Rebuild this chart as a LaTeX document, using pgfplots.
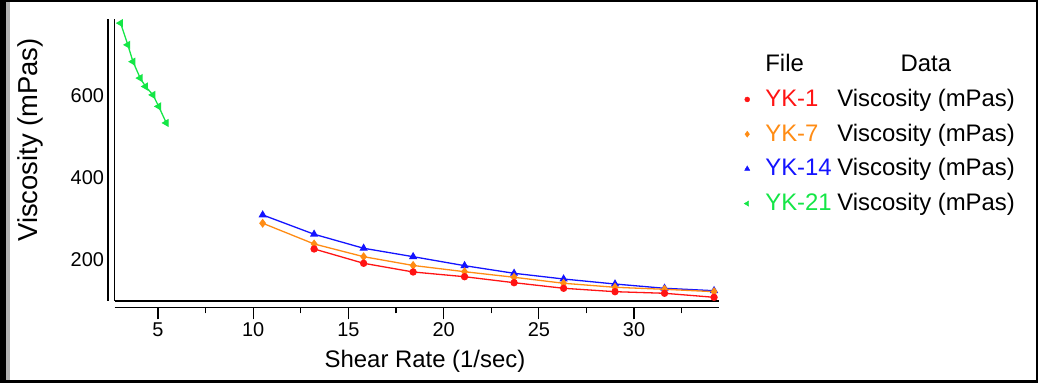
\documentclass[border=0pt]{standalone}
\usepackage{fontspec}
\setmainfont{Liberation Sans}
\usepackage{pgfplots}
\pgfplotsset{compat=1.18}
\definecolor{ykred}{RGB}{255,20,20}
\definecolor{ykorange}{RGB}{255,140,20}
\definecolor{ykblue}{RGB}{20,20,255}
\definecolor{ykgreen}{RGB}{20,230,70}
\newcommand{\rowstrut}{\rule[-7bp]{0pt}{28bp}}
\begin{document}
\begin{tikzpicture}
\useasboundingbox (0,0) rectangle (1038bp,383bp);
\fill[white] (0,0) rectangle (1038bp,383bp);
% window frame
\fill[black] (0,0) rectangle (6bp,383bp);
\fill[black] (0,0) rectangle (1038bp,3bp);
\fill[black] (0,380.5bp) rectangle (1038bp,383bp);
\fill[black] (1036bp,0) rectangle (1038bp,383bp);
\fill[gray!60] (6bp,3bp) rectangle (10bp,380.5bp);
% main data axis
\begin{axis}[
  at={(114.5bp,82bp)}, anchor=south west, scale only axis,
  width=604.5bp, height=282bp,
  xmin=2.72, xmax=34.46, ymin=98.8, ymax=786,
  axis x line*=bottom, axis y line*=left,
  axis line style={-, line width=1.3bp, black},
  xtick=\empty, ytick={200,400,600}, major tick length=0pt,
  /pgf/number format/assume math mode=true,
  yticklabel style={font=\fontsize{20}{24}\selectfont, xshift=-7bp},
  clip=false,
  legend cell align=left,
  legend style={at={(1.0323,0.8951)}, anchor=north west, draw=none, fill=none,
    inner sep=0pt, font=\fontsize{24}{28}\selectfont,
    nodes={inner sep=2bp, text depth=7bp}, row sep=2.7bp,
    /tikz/every odd column/.append style={column sep=13.5bp}},
]
\addlegendimage{empty legend}
\addlegendentry{\rowstrut\makebox[72bp][l]{File}\makebox[177bp][c]{Data}}
\addlegendimage{only marks, mark=*, mark size=2.5bp, ykred}
\addlegendentry{\rowstrut\makebox[72bp][l]{\textcolor{ykred}{YK-1}}Viscosity (mPas)}
\addlegendimage{only marks, mark=diamond*, mark size=3bp, ykorange}
\addlegendentry{\rowstrut\makebox[72bp][l]{\textcolor{ykorange}{YK-7}}Viscosity (mPas)}
\addlegendimage{only marks, mark=triangle*, mark size=3bp, ykblue}
\addlegendentry{\rowstrut\makebox[72bp][l]{\textcolor{ykblue}{YK-14}}Viscosity (mPas)}
\addlegendimage{only marks, mark=triangle*, mark size=3bp, mark options={rotate=90}, ykgreen}
\addlegendentry{\rowstrut\makebox[72bp][l]{\textcolor{ykgreen}{YK-21}}Viscosity (mPas)}

\addplot[forget plot, ykblue, line width=1.3bp, mark=triangle*, mark size=3.5bp] coordinates {
 (10.5,308.5) (13.2,261.5) (15.8,227.3) (18.4,206.8) (21.1,184.9) (23.7,166.3)
 (26.3,152.4) (29.0,140.2) (31.6,129.8) (34.2,123.9)};
\addplot[forget plot, ykorange, line width=1.3bp, mark=diamond*, mark size=3.5bp] coordinates {
 (10.5,288.3) (13.2,237.8) (15.8,206.8) (18.4,185.4) (21.1,170.2) (23.7,156.6)
 (26.3,142.0) (29.0,132.2) (31.6,127.3) (34.2,121.5)};
\addplot[forget plot, ykred, line width=1.3bp, mark=*, mark size=3bp] coordinates {
 (13.2,225.6) (15.8,190.7) (18.4,169.5) (21.1,158.0) (23.7,143.4)
 (26.3,129.8) (29.0,121.5) (31.6,117.6) (34.2,107.8)};
\addplot[forget plot, ykgreen, line width=1.3bp, mark=triangle*, mark size=3.5bp, mark options={rotate=90}] coordinates {
 (3.04,776) (3.42,723) (3.69,682) (4.07,642) (4.35,621.5) (4.74,601) (5.04,573) (5.44,532.7)};
\draw[black, line width=1.3bp] ([xshift=-6.5bp]rel axis cs:0,0) -- ([xshift=-6.5bp]rel axis cs:0,1);
\end{axis}
% x axis with ticks
\begin{axis}[
  at={(114.5bp,75.5bp)}, anchor=south west, scale only axis,
  width=604.5bp, height=5bp,
  xmin=2.72, xmax=34.46, ymin=0, ymax=1,
  axis x line*=bottom, axis y line=none,
  axis line style={-, line width=1.3bp, black},
  xtick={5,10,15,20,25,30}, minor xtick={7.5,12.5,17.5,22.5,27.5,32.5},
  tick align=outside, major tick length=12bp, minor tick length=6bp,
  tick style={black, line width=1.3bp},
  /pgf/number format/assume math mode=true,
  xticklabel style={font=\fontsize{20}{24}\selectfont},
]
\end{axis}
\node[anchor=base, font=\fontsize{24}{28}\selectfont] at (425bp,15.3bp) {Shear Rate (1/sec)};
\node[anchor=base, rotate=90, font=\fontsize{27.5}{32}\selectfont] at (37bp,243bp) {Viscosity (mPas)};
\end{tikzpicture}
\end{document}
